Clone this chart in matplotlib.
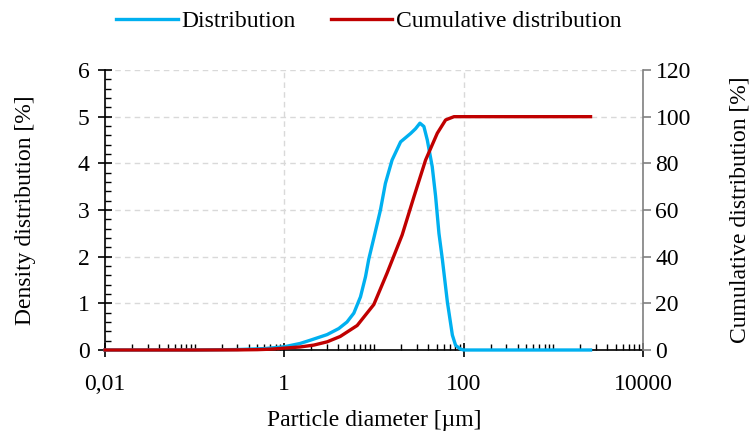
import matplotlib
matplotlib.use("Agg")
import matplotlib.pyplot as plt
from matplotlib.ticker import FixedLocator, NullFormatter
import numpy as np

plt.rcParams['font.family'] = ['Liberation Serif', 'DejaVu Serif']

# Data
diam_density = [0.01, 0.1, 0.3, 0.6, 1.0, 1.5, 1.95, 3.0, 4.05, 5.0, 5.96, 7.07, 8.04,
                8.75, 9.96, 11.8, 13.4, 15.9, 19.8, 25.6, 29.0, 32.5, 36.0, 39.3, 44.6,
                48.6, 53.0, 57.8, 65.8, 74.8, 81.3, 92.0, 100.0, 2600.0]
density = [0.0, 0.0, 0.01, 0.03, 0.07, 0.14, 0.21, 0.33, 0.46, 0.60, 0.79, 1.14, 1.57,
           1.95, 2.40, 3.00, 3.57, 4.07, 4.46, 4.64, 4.74, 4.86, 4.79, 4.50, 3.93,
           3.30, 2.50, 1.95, 1.03, 0.32, 0.10, 0.02, 0.0, 0.0]

diam_cum = [0.01, 0.1, 0.3, 0.5, 0.7, 1.0, 1.5, 2.13, 3.0, 4.2, 6.49, 9.96, 14.0,
            20.6, 27.9, 37.6, 50.8, 62.9, 78.0, 100.0, 2600.0]
cumulative = [0.0, 0.0, 0.05, 0.15, 0.35, 0.8, 1.3, 2.1, 3.5, 5.8, 10.5, 19.5, 33.0,
              49.3, 65.7, 81.4, 92.9, 98.6, 100.0, 100.0, 100.0]

x_major = [0.01, 1, 100, 10000]
x_labels = ["0,01", "1", "100", "10000"]

blue = "#00B0F0"
red = "#C00000"
fs = 17

fig = plt.figure(figsize=(7.53, 4.33), dpi=100)
ax = fig.add_axes([105/753, 1-350/433, (643-105)/753, (350-70)/433])
ax2 = ax.twinx()

ax.set_xscale('log')
ax.set_xlim(0.01, 10000)
ax.set_ylim(0, 6)
ax2.set_ylim(0, 120)

l1, = ax.plot(diam_density, density, color=blue, lw=2.4, clip_on=False, zorder=3,
              solid_joinstyle='round')
l2, = ax2.plot(diam_cum, cumulative, color=red, lw=2.4, clip_on=False, zorder=3,
               solid_joinstyle='round')

# x ticks
ax.xaxis.set_major_locator(FixedLocator(x_major))
ax.set_xticklabels(x_labels)
minor = []
for e in range(-2, 4):
    for m in range(2, 10):
        minor.append(m * 10.0**e)
    if e % 2 == 1:
        minor.append(10.0**e)
ax.xaxis.set_minor_locator(FixedLocator(minor))
ax.xaxis.set_minor_formatter(NullFormatter())

ax.set_yticks(range(0, 7))
ax.set_yticks(np.arange(0, 6.01, 0.2), minor=True)
ax2.set_yticks(range(0, 121, 20))

ax.tick_params(axis='both', which='major', direction='inout', length=10, width=1.2,
               labelsize=fs, colors='black')
ax.tick_params(axis='both', which='minor', direction='in', length=4, width=1.0)
ax.tick_params(axis='x', which='major', pad=12)
ax.tick_params(axis='y', which='major', pad=6)
ax2.tick_params(axis='y', which='major', direction='out', length=6, width=1.2,
                color='#808080', labelsize=fs, labelcolor='black', pad=3)

for s in ['top', 'right']:
    ax.spines[s].set_visible(False)
for s in ['top', 'left', 'bottom']:
    ax2.spines[s].set_visible(False)
ax2.spines['right'].set_color('#808080')
ax2.spines['right'].set_linewidth(1.2)
ax.spines['left'].set_linewidth(1.2)
ax.spines['bottom'].set_linewidth(1.2)

ax.grid(True, which='major', axis='both', color='#d9d9d9', linestyle=(0, (4, 3)), lw=1.0)
ax.set_axisbelow(True)

ax.set_xlabel("Particle diameter [µm]", fontsize=fs, labelpad=11)
ax.set_ylabel("Density distribution [%]", fontsize=fs, labelpad=30)
ax2.set_ylabel("Cumulative distribution [%]", fontsize=fs, labelpad=28)

fig.legend([l1, l2], ["Distribution", "Cumulative distribution"], loc='center',
           bbox_to_anchor=(0.49, 0.95), ncol=2, frameon=False, fontsize=fs,
           handlelength=2.6, handletextpad=0.15, columnspacing=1.5)

fig.savefig("out.png", dpi=100)
